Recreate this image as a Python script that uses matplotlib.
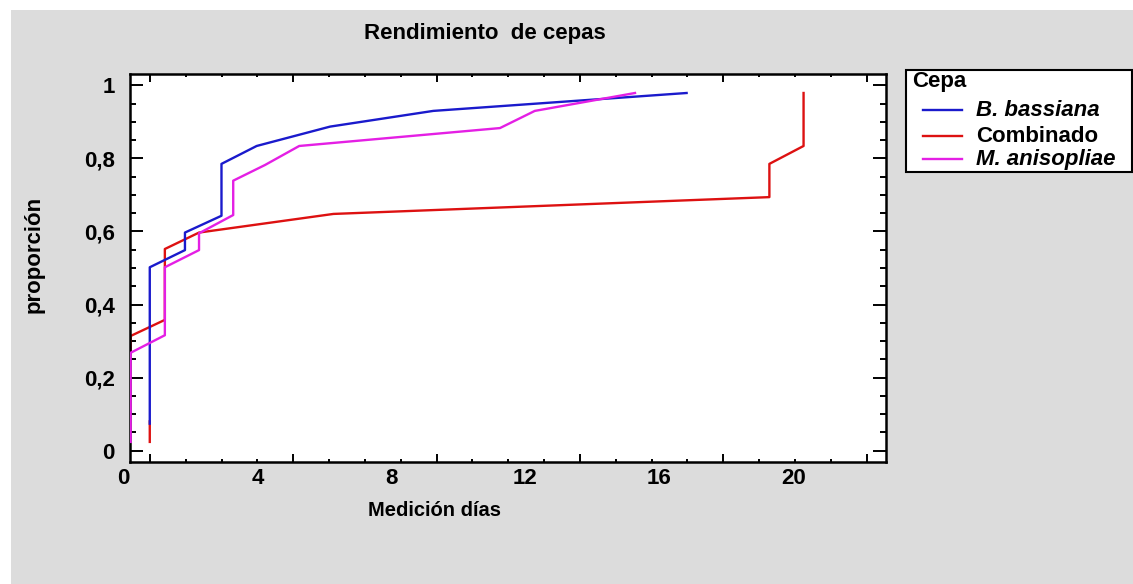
import numpy as np
import matplotlib
matplotlib.use("Agg")
import matplotlib.pyplot as plt
from matplotlib.lines import Line2D
from matplotlib.patches import Rectangle
import matplotlib.transforms as mtransforms

plt.rcParams['font.family'] = ['Liberation Sans', 'DejaVu Sans']

# data (x in days, y = proportion)
series_names = ['B. bassiana', 'Combinado', 'M. anisopliae']

bass_x = [0.79, 0.79, 1.84, 1.84, 2.93, 2.93, 3.98, 6.17, 9.25, 16.81]
bass_y = [0.074, 0.502, 0.549, 0.597, 0.643, 0.785, 0.834, 0.887, 0.930, 0.979]

comb_x = [0.79, 0.79, np.nan, 0.22, 0.22, 1.24, 1.24, 2.26, 6.27, 19.28, 19.28, 20.30, 20.30]
comb_y = [0.024, 0.08, np.nan, 0.27, 0.314, 0.358, 0.552, 0.597, 0.648, 0.694, 0.785, 0.834, 0.979]

anis_x = [0.22, 0.22, 1.24, 1.24, 2.26, 2.26, 3.28, 3.28, 4.23, 5.25, 11.24, 12.28, 15.27]
anis_y = [0.024, 0.268, 0.316, 0.502, 0.549, 0.595, 0.645, 0.739, 0.782, 0.834, 0.883, 0.930, 0.979]

xtick_vals = [0, 4, 8, 12, 16, 20]
ytick_vals = [0, 0.2, 0.4, 0.6, 0.8, 1.0]
ytick_labels = ['0', '0,2', '0,4', '0,6', '0,8', '1']

c_blue = '#1a1acc'
c_red = '#dd1111'
c_mag = '#e41fe4'

W, H = 1133, 584
fig = plt.figure(figsize=(W / 100, H / 100), dpi=100, facecolor='white')

# grey panel behind everything
fig.patches.append(Rectangle((11 / W, 0), 1 - 11 / W, 1 - 10 / H,
                             transform=fig.transFigure, facecolor='#dcdcdc',
                             edgecolor='none', zorder=-10))

ax = fig.add_axes([130 / W, (H - 462) / H, 756 / W, 388 / H])
ax.set_facecolor('white')

ax.plot(comb_x, comb_y, color=c_red, lw=1.7, zorder=2)
ax.plot(bass_x, bass_y, color=c_blue, lw=1.7, zorder=3)
ax.plot(anis_x, anis_y, color=c_mag, lw=1.7, zorder=4)

ax.set_xlim(0.2, 22.76)
ax.set_ylim(-0.031, 1.031)

for s in ax.spines.values():
    s.set_linewidth(1.8)
    s.set_color('black')

# tick marks (offset from the labels as in the original)
major_x = 0.794 + 4.278 * np.arange(6)
minor_x = 0.794 + 1.0695 * np.arange(21)
ax.set_xticks(major_x)
ax.set_xticks(minor_x, minor=True)
ax.set_xticklabels([])
ax.set_yticks(ytick_vals)
ax.set_yticks(np.arange(0, 1.0001, 0.05), minor=True)
ax.set_yticklabels(ytick_labels, fontsize=16, fontweight='bold')

ax.tick_params(axis='x', which='major', direction='in', length=6, width=1.4,
               top=True, bottom=True)
ax.tick_params(axis='x', which='minor', direction='in', length=2.5, width=1.4,
               top=True, bottom=True)
ax.tick_params(axis='y', which='major', direction='in', length=9.4, width=1.4,
               left=True, right=True, pad=11)
ax.tick_params(axis='y', which='minor', direction='in', length=4.3, width=1.4,
               left=True, right=True)

trans = mtransforms.blended_transform_factory(ax.transData, ax.transAxes)
for v in xtick_vals:
    ax.text(v, -0.043, str(v), transform=trans, ha='center', va='center',
            fontsize=16, fontweight='bold', clip_on=False)

ax.set_xlabel('Medición días', fontsize=14.5, fontweight='bold')
ax.xaxis.set_label_coords(0.403, -0.100)
ax.set_ylabel('proporción', fontsize=16, fontweight='bold')
ax.yaxis.set_label_coords(-0.113, 0.534)

fig.text(485 / W, 1 - 34 / H, 'Rendimiento  de cepas', ha='center', va='center',
         fontsize=16, fontweight='bold')

# legend box drawn by hand
fig.patches.append(Rectangle((906 / W, 1 - 171.7 / H), (1132 - 906) / W, (171.7 - 70) / H,
                             transform=fig.transFigure, facecolor='white',
                             edgecolor='black', lw=1.5, zorder=5))
fig.text(912 / W, 1 - 81 / H, 'Cepa', ha='left', va='center', fontsize=16,
         fontweight='bold', zorder=6)
leg_rows = [(110, c_blue, 'italic'), (136, c_red, 'normal'), (159, c_mag, 'italic')]
for name, (py, col, style) in zip(series_names, leg_rows):
    fig.lines.append(Line2D([923 / W, 962 / W], [1 - py / H, 1 - py / H],
                            transform=fig.transFigure, color=col, lw=1.7, zorder=6))
    fig.text(976 / W, 1 - py / H, name, ha='left', va='center', fontsize=16,
             fontweight='bold', fontstyle=style, zorder=6)

fig.savefig('out.png', dpi=100, facecolor=fig.get_facecolor())
